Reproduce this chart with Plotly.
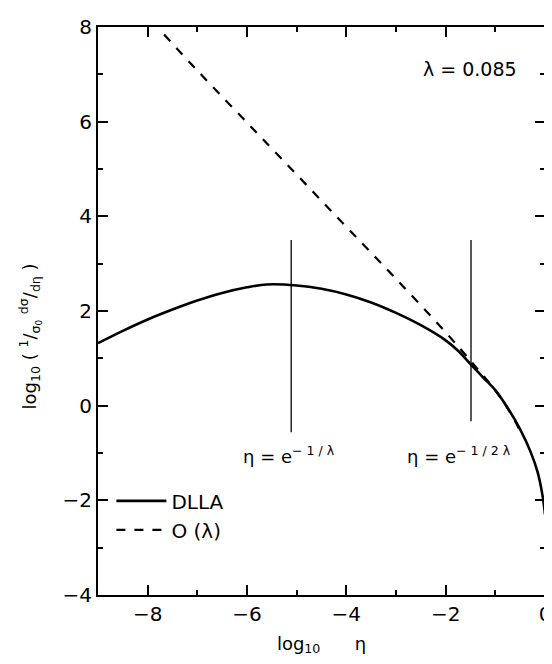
import plotly.graph_objects as go

# DLLA (solid) curve
dlla_x = [-9.0, -8.5, -8.0, -7.5, -7.0, -6.5, -6.0, -5.6, -5.0, -4.5, -4.0, -3.5, -3.0, -2.5, -2.0, -1.75, -1.5, -1.25, -1.0, -0.75, -0.5, -0.3, -0.15, -0.05, 0.0]
dlla_y = [1.32, 1.58, 1.82, 2.03, 2.22, 2.38, 2.50, 2.56, 2.54, 2.47, 2.35, 2.18, 1.96, 1.70, 1.38, 1.16, 0.88, 0.60, 0.33, -0.05, -0.50, -0.95, -1.40, -1.90, -2.30]

# O(lambda) (dashed) curve
olam_x = [-7.67, -7.0, -6.0, -5.0, -4.0, -3.0, -2.0, -1.5, -1.2, -1.0, -0.8, -0.6, -0.5]
olam_y = [7.84, 7.08, 5.98, 4.88, 3.78, 2.68, 1.55, 0.95, 0.58, 0.32, 0.02, -0.33, -0.55]

# marker lines at eta = e^{-1/lambda} and eta = e^{-1/2 lambda}
mark_x = [-5.11, -1.49]
mark_top = [3.5, 3.5]
mark_bottom = [-0.56, -0.33]

xticks = [-8, -6, -4, -2, 0]
xticklabels = ["\u22128", "\u22126", "\u22124", "\u22122", "0"]
yticks = [-4, -2, 0, 2, 4, 6, 8]
yticklabels = ["\u22124", "\u22122", "0", "2", "4", "6", "8"]

FONT = "DejaVu Sans"

fig = go.Figure()
fig.add_trace(go.Scatter(x=dlla_x, y=dlla_y, mode="lines", name="DLLA",
                         line=dict(color="black", width=2.6, shape="spline")))
fig.add_trace(go.Scatter(x=olam_x, y=olam_y, mode="lines", name="O (\u03bb)",
                         line=dict(color="black", width=2.2, dash="dash", shape="spline")))
for mx, t, b in zip(mark_x, mark_top, mark_bottom):
    fig.add_trace(go.Scatter(x=[mx, mx], y=[b, t], mode="lines", showlegend=False,
                             line=dict(color="black", width=1.3)))

fig.add_annotation(x=-5.15, y=-1.05, text="\u03b7 = e<sup>\u2212 1 / \u03bb</sup>", showarrow=False,
                   font=dict(size=18, family=FONT, color="black"))
fig.add_annotation(x=-1.73, y=-1.05, text="\u03b7 = e<sup>\u2212 1 / 2 \u03bb</sup>", showarrow=False,
                   font=dict(size=18, family=FONT, color="black"))
fig.add_annotation(x=-1.52, y=7.12, text="\u03bb = 0.085", showarrow=False,
                   font=dict(size=19, family=FONT, color="black"))

# y-axis title
fig.add_annotation(xref="paper", yref="paper", x=0, xanchor="center", xshift=-68,
                   y=0.455, yanchor="middle", textangle=-90,
                   text="log<sub>10</sub> ( <sup>1</sup>/<sub>\u03c3<sub>0</sub></sub> <sup>d\u03c3</sup>/<sub>d\u03b7</sub> )",
                   showarrow=False, font=dict(size=18, family=FONT, color="black"))

axis_common = dict(showline=True, linecolor="black", linewidth=2, mirror="allticks",
                   ticks="inside", ticklen=10, tickwidth=2, tickcolor="black",
                   showgrid=False, zeroline=False, ticklabeloverflow="allow",
                   tickfont=dict(size=20, family=FONT, color="black"),
                   minor=dict(ticks="inside", ticklen=5, tickwidth=1.5, tickcolor="black", dtick=1))

fig.update_xaxes(range=[-9, 0], tickvals=xticks, ticktext=xticklabels,
                 title=dict(text="log<sub>10</sub>      \u03b7", font=dict(size=18, family=FONT, color="black"), standoff=12),
                 **axis_common)
fig.update_yaxes(range=[-4, 8], tickvals=yticks, ticktext=yticklabels, **axis_common)

fig.update_layout(
    width=552, height=664,
    margin=dict(l=90, r=15, t=7, b=77),
    plot_bgcolor="white", paper_bgcolor="white",
    font=dict(family=FONT, color="black"),
    legend=dict(x=0.03, y=0.2, xanchor="left", yanchor="top", bgcolor="rgba(0,0,0,0)",
                font=dict(size=20, family=FONT, color="black"), itemwidth=50,
                tracegroupgap=0),
    showlegend=True,
)

fig.write_html("out.html", config={"displayModeBar": False})
